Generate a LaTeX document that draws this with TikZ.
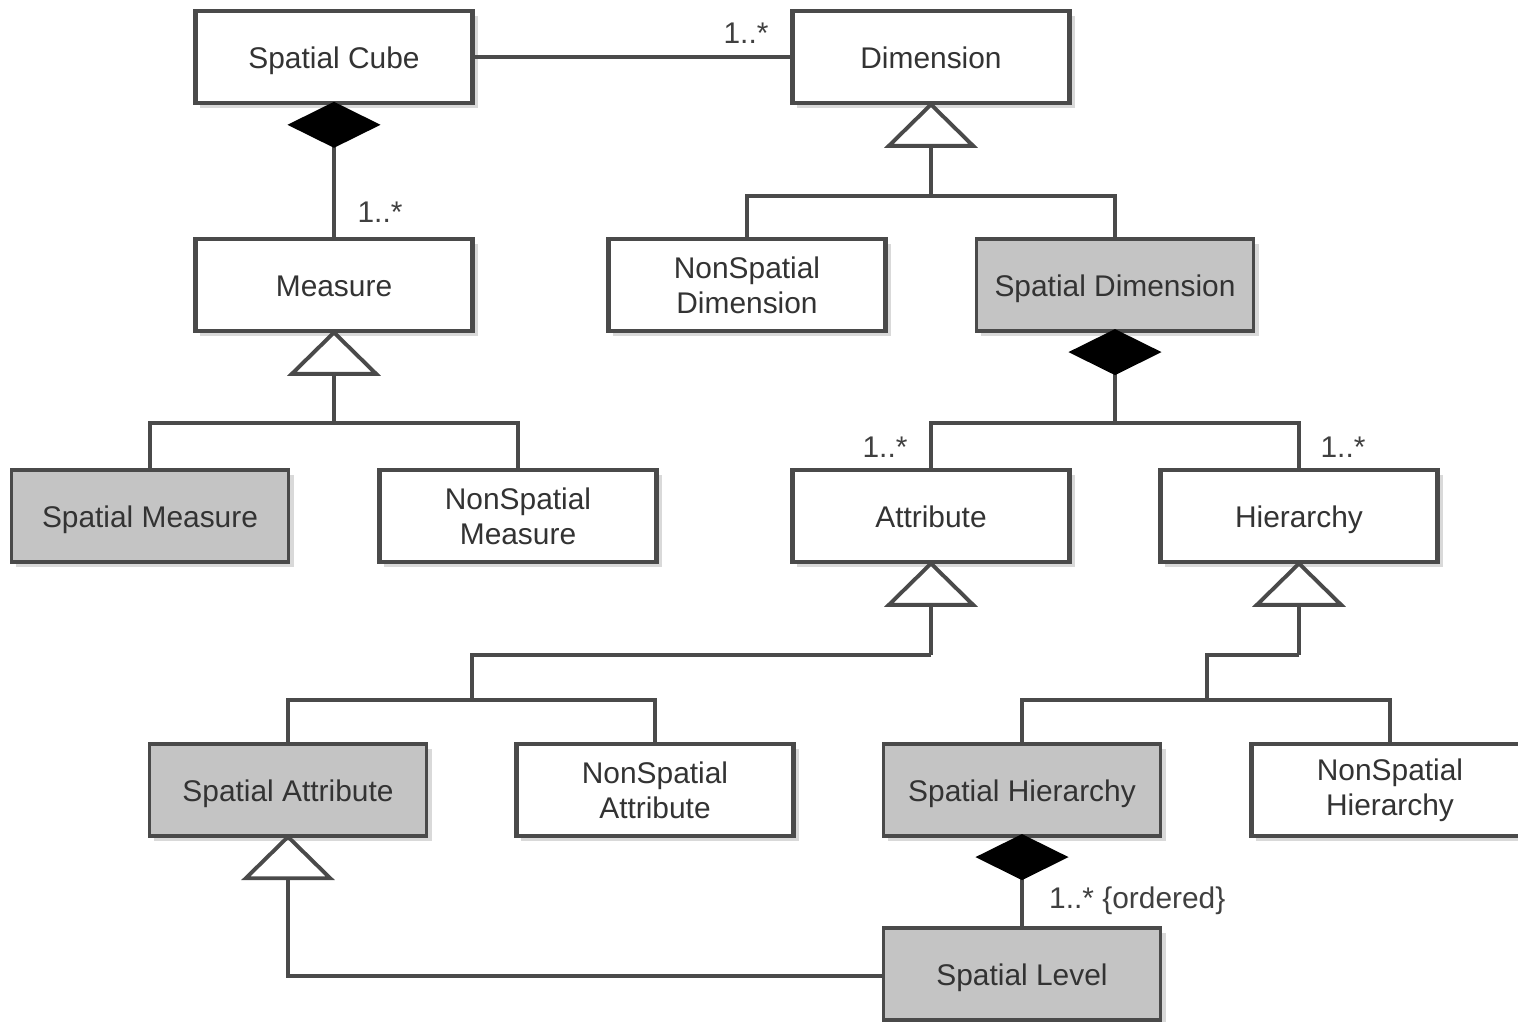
\documentclass[tikz,border=0pt]{standalone}
\usepackage{fontspec}
\setmainfont{Liberation Sans}
\usetikzlibrary{positioning,shapes,shadows,arrows.meta,fit,backgrounds}

\definecolor{edge}{HTML}{4A4A4A}
\definecolor{boxgray}{HTML}{C4C4C4}
\tikzset{
  classbox/.style={rectangle, draw=edge, line width=1.3pt, fill=white, minimum width=2.77cm, minimum height=0.92cm,
    align=center, inner sep=1pt, text=black!80,
    drop shadow={shadow xshift=0.05cm, shadow yshift=-0.05cm, fill=black, opacity=0.15}},
  cls/.style={classbox, text height=1.6ex, text depth=0.4ex},
  cls2/.style={classbox},
  scls/.style={cls, fill=boxgray, line width=0.9pt},
  link/.style={draw=edge, line width=0.9pt},
  gen/.style={link, -{Triangle[open, length=0.46cm, width=0.93cm, line width=1.1pt]}, shorten >=-1pt},
  comp/.style={link, {Diamond[length=0.46cm, width=0.93cm, black]}-, shorten <=-1pt},
  mult/.style={text=black!75, inner sep=1pt}
}

\begin{document}
\begin{tikzpicture}[x=0.01cm, y=-0.01cm, font=\fontsize{8.5}{10}\selectfont]
  \useasboundingbox (0,0) rectangle (1518,1022);

  % classes
  \node[cls] (cube) at (334,57) {Spatial Cube};
  \node[cls] (dim) at (931,57) {Dimension};
  \node[cls] (meas) at (334,285) {Measure};
  \node[cls2] (nsdim) at (747,285) {NonSpatial\\Dimension};
  \node[scls] (sdim) at (1115,285) {Spatial Dimension};
  \node[scls] (smeas) at (150,516) {Spatial Measure};
  \node[cls2] (nsmeas) at (518,516) {NonSpatial\\Measure};
  \node[cls] (attr) at (931,516) {Attribute};
  \node[cls] (hier) at (1299,516) {Hierarchy};
  \node[scls] (sattr) at (288,790) {Spatial Attribute};
  \node[cls2] (nsattr) at (655,790) {NonSpatial\\Attribute};
  \node[scls] (shier) at (1022,790) {Spatial Hierarchy};
  \node[cls2] (nshier) at (1390,790) {NonSpatial\\Hierarchy};
  \node[scls] (slev) at (1022,974) {Spatial Level};

  % fork points
  \coordinate (dimfork) at (931,196);
  \coordinate (measfork) at (334,423);
  \coordinate (sdimfork) at (1115,423);
  \coordinate (attrfork) at (931,655);
  \coordinate (attrfork2) at (472,700);
  \coordinate (hierfork) at (1299,655);
  \coordinate (hierfork2) at (1207,700);
  \coordinate (levcorner) at (288,976);

  % associations
  \draw[link] (cube.east) -- (dim.west);
  \draw[comp] (cube.south) -- (meas.north);
  \draw[comp] (sdim.south) -- (sdimfork);
  \draw[link] (attr.north) |- (sdimfork) -| (hier.north);
  \draw[comp] (shier.south) -- (slev.north);

  % generalizations
  \draw[gen] (dimfork) -- (dim.south);
  \draw[link] (nsdim.north) |- (dimfork) -| (sdim.north);
  \draw[gen] (measfork) -- (meas.south);
  \draw[link] (smeas.north) |- (measfork) -| (nsmeas.north);
  \draw[gen] (attrfork) -- (attr.south);
  \draw[link] (attrfork) -| (attrfork2);
  \draw[link] (sattr.north) |- (attrfork2) -| (nsattr.north);
  \draw[gen] (hierfork) -- (hier.south);
  \draw[link] (hierfork) -| (hierfork2);
  \draw[link] (shier.north) |- (hierfork2) -| (nshier.north);
  \draw[gen] (slev.west |- levcorner) -- (levcorner) -- (sattr.south);

  % multiplicities
  \node[mult] at (746,33) {1..*};
  \node[mult] at (380,212) {1..*};
  \node[mult] at (885,447) {1..*};
  \node[mult] at (1343,447) {1..*};
  \node[mult, anchor=west] at (1045,901) {1..* \{ordered\}};
\end{tikzpicture}
\end{document}
